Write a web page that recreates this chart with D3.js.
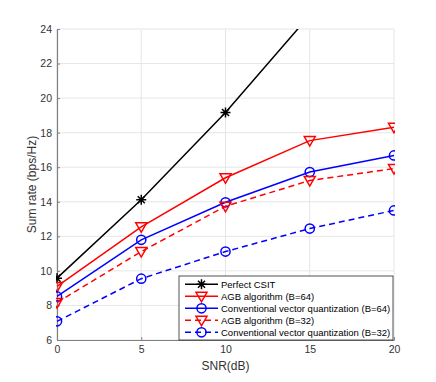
<!DOCTYPE html>
<html>
<head>
<meta charset="utf-8">
<script src="https://cdn.jsdelivr.net/npm/d3@7"></script>
<style>
  body { margin: 0; background: #fff; }
  text { font-family: "Liberation Sans", Arial, Helvetica, sans-serif; }
</style>
</head>
<body>
<div class="container"></div>
<script>
var svgWidth = 436;
var svgHeight = 382;

// data
var snr = [0, 5, 10, 15, 20];
var perfectCsit = [9.58, 14.12, 19.17, 24.8, null];
var agb64 = [9.1, 12.55, 15.39, 17.54, 18.31];
var cvq64 = [8.52, 11.8, 13.97, 15.72, 16.68];
var agb32 = [8.17, 11.12, 13.74, 15.23, 15.92];
var cvq32 = [7.08, 9.55, 11.12, 12.45, 13.5];
var xTicks = [0, 5, 10, 15, 20];
var yTicks = [6, 8, 10, 12, 14, 16, 18, 20, 22, 24];

var series = [
    {name: "Perfect CSIT", values: perfectCsit, color: "#000000", dash: null, marker: "star"},
    {name: "AGB algorithm (B=64)", values: agb64, color: "#ff0000", dash: null, marker: "tri"},
    {name: "Conventional vector quantization (B=64)", values: cvq64, color: "#0000ff", dash: null, marker: "circle"},
    {name: "AGB algorithm (B=32)", values: agb32, color: "#ff0000", dash: "6,4", marker: "tri"},
    {name: "Conventional vector quantization (B=32)", values: cvq32, color: "#0000ff", dash: "6,4", marker: "circle"}
];

var chartMargin = {top: 29, bottom: 42, left: 57, right: 42};
var chartWidth = svgWidth - chartMargin.left - chartMargin.right;
var chartHeight = svgHeight - chartMargin.top - chartMargin.bottom;

var svg = d3.select(".container")
    .append("svg")
    .attr("width", svgWidth)
    .attr("height", svgHeight);

var chartGroup = svg.append("g")
    .attr("transform", `translate(${chartMargin.left}, ${chartMargin.top})`);

var xScale = d3.scaleLinear().domain([0, 20]).range([0, chartWidth]);
var yScale = d3.scaleLinear().domain([6, 24]).range([chartHeight, 0]);

// grid
chartGroup.append("g").selectAll("line")
    .data(xTicks)
    .enter().append("line")
    .attr("x1", d => xScale(d)).attr("x2", d => xScale(d))
    .attr("y1", 0).attr("y2", chartHeight)
    .attr("stroke", "#e6e6e6").attr("stroke-width", 1);
chartGroup.append("g").selectAll("line")
    .data(yTicks)
    .enter().append("line")
    .attr("x1", 0).attr("x2", chartWidth)
    .attr("y1", d => yScale(d)).attr("y2", d => yScale(d))
    .attr("stroke", "#e6e6e6").attr("stroke-width", 1);

// axes
var leftAxis = d3.axisLeft(yScale).tickValues(yTicks).tickSizeInner(-3).tickSizeOuter(0).tickPadding(5);
var bottomAxis = d3.axisBottom(xScale).tickValues(xTicks).tickSizeInner(-3).tickSizeOuter(0).tickPadding(6);

var gy = chartGroup.append("g").call(leftAxis);
var gx = chartGroup.append("g").attr("transform", `translate(0, ${chartHeight})`).call(bottomAxis);
[gx, gy].forEach(function(g) {
    g.select(".domain").attr("stroke", "#808080").attr("stroke-width", 1.2);
    g.selectAll(".tick line").attr("stroke", "#808080");
    g.selectAll(".tick text")
        .attr("fill", "#333")
        .style("font-size", "10.5px")
        .style("font-family", "'Liberation Sans', Arial, sans-serif");
});

// labels
svg.append("text")
    .attr("x", chartMargin.left + chartWidth / 2)
    .attr("y", 370)
    .attr("text-anchor", "middle")
    .attr("fill", "#333")
    .style("font-size", "12px")
    .text("SNR(dB)");

svg.append("text")
    .attr("transform", `translate(36, ${chartMargin.top + chartHeight / 2}) rotate(-90)`)
    .attr("text-anchor", "middle")
    .attr("fill", "#333")
    .style("font-size", "12px")
    .text("Sum rate (bps/Hz)");

// clip to plot area
svg.append("defs").append("clipPath").attr("id", "plotclip")
    .append("rect").attr("x", -1).attr("y", 0).attr("width", chartWidth + 2).attr("height", chartHeight + 1);

var plot = chartGroup.append("g").attr("clip-path", "url(#plotclip)");

function drawMarker(g, type, color) {
    if (type === "star") {
        var r = 5;
        var p = "";
        for (var i = 0; i < 4; i++) {
            var a = i * Math.PI / 4;
            p += `M${-r * Math.cos(a)},${-r * Math.sin(a)}L${r * Math.cos(a)},${r * Math.sin(a)}`;
        }
        g.append("path").attr("d", p).attr("stroke", color).attr("stroke-width", 1.5).attr("fill", "none");
    } else if (type === "tri") {
        g.append("path").attr("d", "M-5.5,-4L5.5,-4L0,5.5Z")
            .attr("stroke", color).attr("stroke-width", 1.5).attr("fill", "none");
    } else {
        g.append("circle").attr("r", 4.6)
            .attr("stroke", color).attr("stroke-width", 1.5).attr("fill", "none");
    }
}

var line = d3.line()
    .defined(d => d[1] !== null)
    .x(d => xScale(d[0]))
    .y(d => yScale(d[1]));

series.forEach(function(s) {
    var pts = snr.map((x, i) => [x, s.values[i]]);
    plot.append("path")
        .datum(pts)
        .attr("d", line)
        .attr("fill", "none")
        .attr("stroke", s.color)
        .attr("stroke-width", 1.5)
        .attr("stroke-dasharray", s.dash);
    pts.filter(d => d[1] !== null).forEach(function(d) {
        var mg = plot.append("g").attr("transform", `translate(${xScale(d[0])}, ${yScale(d[1])})`);
        drawMarker(mg, s.marker, s.color);
    });
});

// legend
var legend = svg.append("g").attr("transform", "translate(179, 276)");
legend.append("rect")
    .attr("width", 214).attr("height", 64)
    .attr("fill", "#fff").attr("stroke", "#262626").attr("stroke-width", 0.8);

series.forEach(function(s, i) {
    var y = 8.3 + i * 12;
    var row = legend.append("g").attr("transform", `translate(0, ${y})`);
    row.append("line")
        .attr("x1", 6).attr("x2", 39)
        .attr("y1", 0).attr("y2", 0)
        .attr("stroke", s.color).attr("stroke-width", 1.5)
        .attr("stroke-dasharray", s.dash);
    var mg = row.append("g").attr("transform", "translate(22.5, 0)");
    drawMarker(mg, s.marker, s.color);
    row.append("text")
        .attr("x", 42).attr("y", 0).attr("dy", "0.35em")
        .attr("fill", "#000")
        .style("font-size", "9.5px")
        .text(s.name);
});
</script>
</body>
</html>
